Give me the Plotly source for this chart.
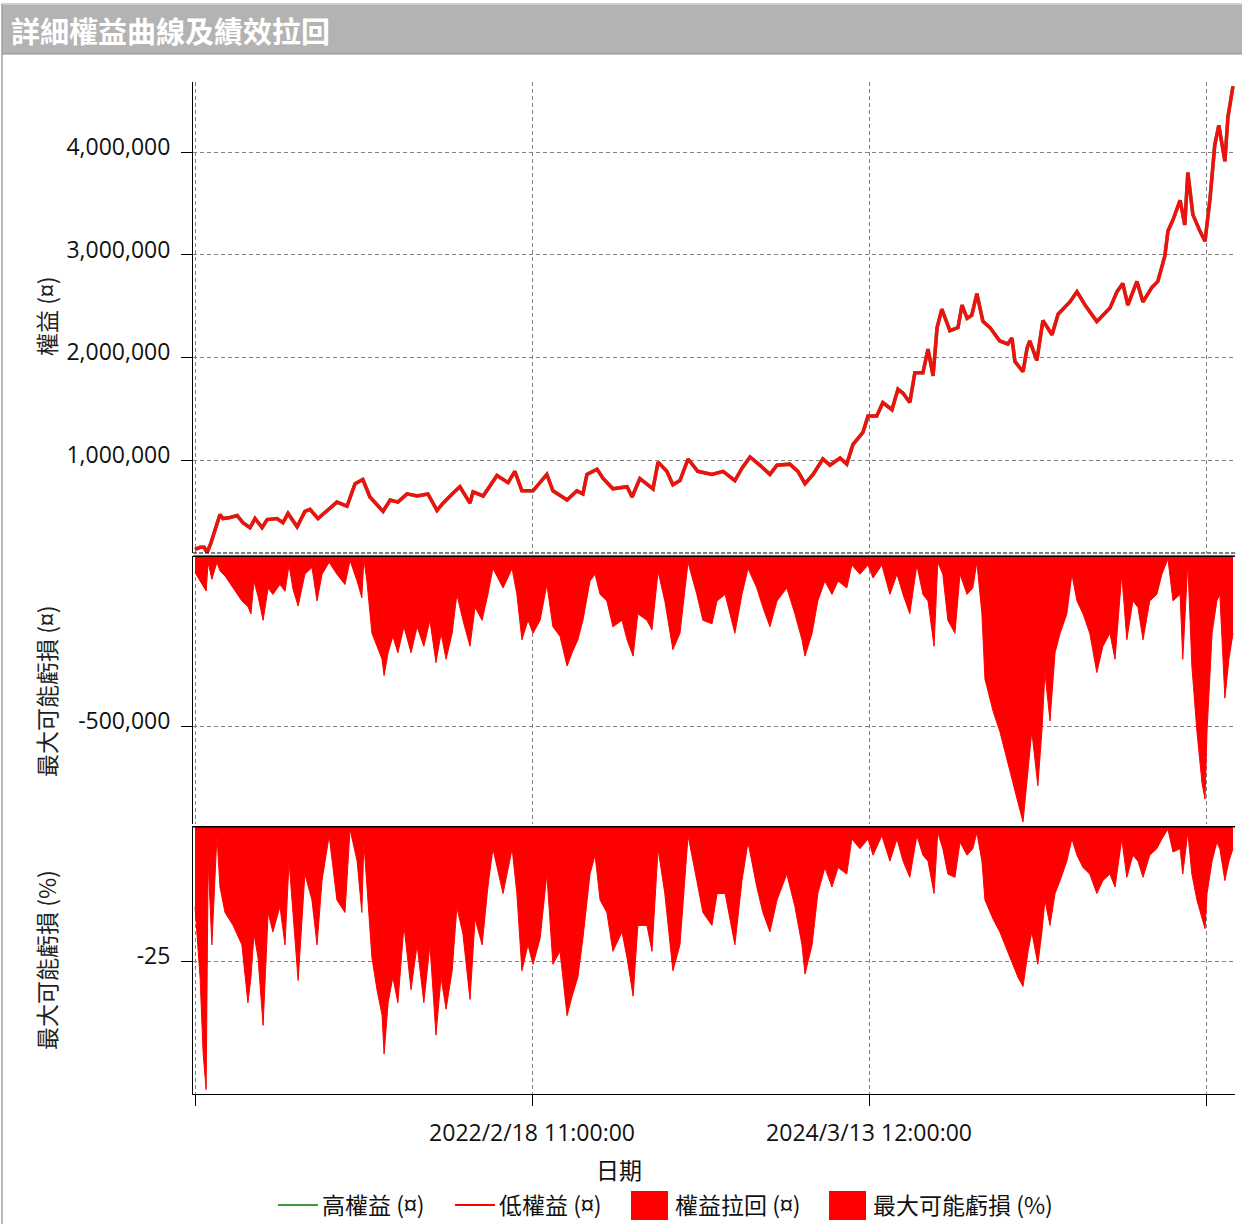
import plotly.graph_objects as go

# ---------------- data ----------------
eq_bar = [0, 15, 27, 36, 47, 59, 74, 83, 104, 125, 142, 163, 178, 199, 214, 243, 261, 276, 303, 326,
          341, 365, 392, 421, 451, 475, 498, 519, 558, 579, 602, 629, 659, 691, 718, 736, 763, 786, 816, 825,
          855, 896, 929, 949, 970, 1003, 1044, 1062, 1104, 1133, 1151, 1163, 1193, 1211, 1240, 1282, 1297, 1320, 1359, 1374,
          1400, 1418, 1439, 1463, 1492, 1534, 1567, 1602, 1623, 1647, 1676, 1706, 1727, 1765, 1789, 1810, 1834, 1863, 1884, 1914,
          1934, 1952, 1982, 1997, 2023, 2041, 2068, 2086, 2101, 2121, 2136, 2160, 2175, 2190, 2202, 2216, 2240, 2264, 2276, 2291,
          2305, 2320, 2338, 2359, 2388, 2412, 2424, 2433, 2457, 2469, 2477, 2498, 2516, 2543, 2561, 2596, 2617, 2641, 2676, 2715,
          2736, 2753, 2768, 2795, 2813, 2839, 2857, 2878, 2887, 2902, 2923, 2937, 2946, 2961, 2982, 2997, 3012, 3026, 3038, 3056,
          3065, 3080]
equity = [130000, 150000, 150000, 100000, 190000, 320000, 470000, 430000, 440000, 460000, 390000, 340000, 430000, 340000, 420000, 430000, 390000, 480000, 350000, 500000,
          520000, 430000, 510000, 590000, 550000, 770000, 810000, 640000, 500000, 610000, 590000, 670000, 650000, 670000, 510000, 580000, 670000, 740000, 580000, 690000,
          650000, 850000, 780000, 890000, 700000, 700000, 860000, 700000, 610000, 700000, 670000, 860000, 910000, 820000, 720000, 740000, 640000, 820000, 720000, 980000,
          890000, 760000, 800000, 1010000, 890000, 860000, 890000, 800000, 920000, 1030000, 950000, 860000, 950000, 960000, 890000, 770000, 860000, 1010000, 950000, 1020000,
          960000, 1150000, 1270000, 1430000, 1430000, 1560000, 1490000, 1690000, 1650000, 1560000, 1850000, 1850000, 2080000, 1820000, 2290000, 2470000, 2260000, 2290000, 2510000, 2380000,
          2410000, 2620000, 2350000, 2290000, 2160000, 2130000, 2190000, 1960000, 1860000, 2090000, 2160000, 1970000, 2360000, 2220000, 2420000, 2540000, 2640000, 2510000, 2350000, 2480000,
          2640000, 2720000, 2510000, 2740000, 2540000, 2680000, 2740000, 2990000, 3230000, 3340000, 3530000, 3290000, 3800000, 3390000, 3230000, 3130000, 3550000, 4070000, 4260000, 3910000,
          4340000, 4640000]

dd_bar = [0, 15, 24, 33, 39, 50, 65, 74, 89, 113, 139, 157, 166, 175, 187, 202, 217, 231, 252, 267,
          279, 291, 306, 326, 347, 362, 377, 398, 421, 445, 460, 481, 495, 501, 510, 525, 540, 555, 561, 573,
          587, 602, 620, 641, 659, 679, 697, 715, 730, 745, 763, 777, 795, 816, 831, 852, 869, 884, 914, 941,
          955, 970, 988, 1003, 1024, 1044, 1062, 1083, 1104, 1119, 1136, 1151, 1172, 1187, 1202, 1222, 1240, 1267, 1282, 1300,
          1314, 1341, 1356, 1374, 1394, 1418, 1439, 1463, 1489, 1507, 1534, 1549, 1573, 1602, 1623, 1641, 1667, 1685, 1706, 1727,
          1756, 1780, 1801, 1810, 1831, 1848, 1869, 1890, 1908, 1934, 1949, 1973, 1997, 2012, 2038, 2062, 2083, 2101, 2121, 2142,
          2160, 2175, 2193, 2204, 2219, 2234, 2255, 2270, 2291, 2308, 2320, 2335, 2344, 2368, 2388, 2403, 2427, 2442, 2457, 2472,
          2483, 2501, 2513, 2522, 2537, 2552, 2567, 2587, 2602, 2617, 2635, 2655, 2676, 2694, 2715, 2730, 2750, 2765, 2783, 2798,
          2813, 2833, 2854, 2869, 2887, 2902, 2923, 2931, 2946, 2958, 2973, 2988, 2997, 3003, 3018, 3032, 3041, 3056, 3068, 3080]
dd_abs = [-50000, -75000, -90000, -104000, -20000, -70000, -20000, -45000, -60000, -95000, -133000, -150000, -171000, -75000, -120000, -190000, -95000, -114000, -85000, -105000,
          -28000, -100000, -148000, -55000, -35000, -133000, -55000, -20000, -55000, -85000, -15000, -75000, -124000, -10000, -75000, -228000, -266000, -304000, -352000, -285000,
          -237000, -285000, -209000, -285000, -209000, -266000, -190000, -314000, -228000, -304000, -228000, -114000, -190000, -266000, -152000, -190000, -114000, -38000, -95000, -38000,
          -114000, -247000, -190000, -228000, -190000, -85000, -209000, -237000, -324000, -285000, -247000, -190000, -75000, -55000, -114000, -133000, -209000, -190000, -247000, -295000,
          -171000, -190000, -218000, -47000, -133000, -276000, -228000, -20000, -114000, -190000, -200000, -133000, -114000, -228000, -114000, -38000, -95000, -152000, -209000, -133000,
          -95000, -171000, -247000, -295000, -228000, -133000, -75000, -114000, -75000, -95000, -28000, -55000, -28000, -66000, -28000, -114000, -55000, -114000, -171000, -28000,
          -114000, -133000, -266000, -20000, -55000, -190000, -228000, -55000, -114000, -95000, -20000, -171000, -362000, -456000, -515000, -570000, -666000, -724000, -781000, -627000,
          -515000, -675000, -515000, -343000, -485000, -285000, -228000, -171000, -55000, -133000, -171000, -228000, -343000, -266000, -228000, -304000, -55000, -247000, -133000, -152000,
          -247000, -133000, -114000, -55000, -10000, -133000, -114000, -304000, -20000, -324000, -515000, -666000, -714000, -515000, -228000, -133000, -114000, -418000, -304000, -228000]
dd_pct = [-15, -28, -42, -48.8, -6.5, -22, -1.8, -11.3, -16, -18.4, -22, -32.7, -28, -20, -24.4, -36.9, -16, -19.6, -14.9, -22,
          -6.5, -17.2, -28.6, -8.9, -13.7, -22, -10, -1.8, -13.7, -16, -0.6, -6.5, -16, -3, -11.3, -24.4, -30.3, -35, -42.2, -32.7,
          -28, -32.7, -18.4, -30.3, -22, -32.7, -22, -38.7, -28, -33.9, -26.8, -15, -20, -32.1, -17.2, -22, -11.3, -4.2, -12.5, -4.2,
          -12.5, -26.8, -22, -25.6, -20.8, -8.9, -25.6, -23.2, -35.1, -31.5, -28, -20.8, -8.9, -5.4, -13.7, -16, -23.2, -19.6, -24.4, -31.5,
          -18.4, -18.4, -23.2, -4.2, -12.5, -26.8, -22, -1.8, -10.1, -16, -18.4, -12.5, -12.5, -22, -10.1, -3, -11.3, -16, -19.6, -13.7,
          -8.9, -14.9, -22, -27.4, -22, -12.5, -7.7, -11.3, -7.7, -8.9, -2.4, -4.2, -2.4, -5.4, -1.8, -6.5, -2.4, -6.5, -9.5, -1.8,
          -5.4, -6.5, -12.5, -1.2, -4.2, -8.9, -9.5, -3, -5.4, -4.2, -1.2, -6.5, -13.7, -17.2, -19.6, -22, -25.6, -28, -29.7, -23.2,
          -19.6, -25.6, -19.6, -13.7, -18.4, -12.5, -10.1, -6.5, -2.4, -5.4, -7.7, -8.9, -12.5, -10.1, -8.9, -11.3, -2.4, -9.5, -5.4, -6.5,
          -9.5, -5.4, -4.2, -2.4, -0.6, -4.8, -4.2, -8.9, -1.2, -8.9, -13.7, -17.2, -19, -12.5, -6.5, -3, -4.2, -10.1, -6.5, -4.2]

x_tickvals = [0, 1000, 2000, 3000]
x_ticktext = ["", "2022/2/18 11:00:00", "2024/3/13 12:00:00", ""]
eq_tickvals = [1000000, 2000000, 3000000, 4000000]
eq_ticktext = ["1,000,000", "2,000,000", "3,000,000", "4,000,000"]
abs_tickvals = [-500000]
abs_ticktext = ["-500,000"]
pct_tickvals = [-25]
pct_ticktext = ["-25"]

title_text = "詳細權益曲線及績效拉回"
legend_names = ["高權益 (¤)", "低權益 (¤)", "權益拉回 (¤)", "最大可能虧損 (%)"]

# ---------------- figure ----------------
RED = "#ff0000"
GREEN = "#3c9a3c"
NUM_FONT = "Open Sans, Noto Sans CJK TC, sans-serif"
CJK_FONT = "Noto Sans CJK TC, Noto Sans, sans-serif"

fig = go.Figure()
fig.add_trace(go.Scatter(x=eq_bar, y=equity, mode="lines", name=legend_names[0],
                         line=dict(color=GREEN, width=3.5), xaxis="x", yaxis="y", showlegend=False))
fig.add_trace(go.Scatter(x=eq_bar, y=equity, mode="lines", name=legend_names[1],
                         line=dict(color="#f01010", width=3.5), xaxis="x", yaxis="y", showlegend=False))
fig.add_trace(go.Scatter(x=dd_bar, y=dd_abs, mode="lines", name=legend_names[2], fill="tozeroy",
                         fillcolor=RED, line=dict(color=RED, width=1), xaxis="x2", yaxis="y2", showlegend=False))
fig.add_trace(go.Scatter(x=dd_bar, y=dd_pct, mode="lines", name=legend_names[3], fill="tozeroy",
                         fillcolor=RED, line=dict(color=RED, width=1), xaxis="x3", yaxis="y3", showlegend=False))

grid = dict(showgrid=True, gridcolor="#808080", gridwidth=1, griddash="4px,3px", zeroline=False)
xcommon = dict(range=[-6, 3086], tickvals=x_tickvals, **grid)
ycommon = dict(ticks="outside", ticklen=11, tickcolor="black", showline=True, linecolor="black",
               linewidth=1, ticklabelstandoff=6, ticklabelshift=-5,
               tickfont=dict(family=NUM_FONT, size=23, color="#111111"), **grid)

PLOT_W, PLOT_H = 1042, 1012
L, T = 193, 82


def px(x):
    return (x - L) / PLOT_W


def py(y):
    return (T + PLOT_H - y) / PLOT_H


fig.update_layout(
    width=1242, height=1224,
    margin=dict(l=193, r=7, t=82, b=130),
    paper_bgcolor="white", plot_bgcolor="white",
    showlegend=False,
    xaxis=dict(domain=[0, 1], anchor="y", showticklabels=False, ticks="", showline=False, **xcommon),
    xaxis2=dict(domain=[0, 1], anchor="y2", matches="x", showticklabels=False, ticks="", showline=False, **xcommon),
    xaxis3=dict(domain=[0, 1], anchor="y3", matches="x", ticktext=x_ticktext, ticks="outside", ticklen=11,
                tickcolor="black", showline=True, linecolor="black", ticklabelstandoff=7,
                tickfont=dict(family=NUM_FONT, size=23, color="#111111"), **xcommon),
    yaxis=dict(domain=[py(553), 1], anchor="x", range=[94500, 4682000], tickvals=eq_tickvals,
               ticktext=eq_ticktext, **ycommon),
    yaxis2=dict(domain=[py(824), py(555.5)], anchor="x2", range=[-787000, 0], tickvals=abs_tickvals,
                ticktext=abs_ticktext, **ycommon),
    yaxis3=dict(domain=[0, py(826)], anchor="x3", range=[-49.6, 0], tickvals=pct_tickvals,
                ticktext=pct_ticktext, **ycommon),
)

shapes = []
# title bar
shapes.append(dict(type="rect", xref="paper", yref="paper", x0=px(2), x1=px(1242), y0=py(54), y1=py(5),
                   fillcolor="#b3b3b3", line=dict(width=0), layer="below"))
shapes.append(dict(type="line", xref="paper", yref="paper", x0=px(2), x1=px(1242), y0=py(54), y1=py(54),
                   line=dict(color="#8c8c8c", width=1)))
shapes.append(dict(type="line", xref="paper", yref="paper", x0=px(2), x1=px(1242), y0=py(4), y1=py(4),
                   line=dict(color="#cfcfcf", width=2)))
shapes.append(dict(type="line", xref="paper", yref="paper", x0=px(2), x1=px(2), y0=py(1224), y1=py(4),
                   line=dict(color="#a0a0a0", width=1.5)))
# dashed bottom border of the equity panel
shapes.append(dict(type="line", xref="paper", yref="paper", x0=0, x1=1, y0=py(553), y1=py(553),
                   line=dict(color="black", width=1, dash="4px,2px")))
# thick zero lines on the drawdown panels
shapes.append(dict(type="line", xref="paper", yref="y2", x0=0, x1=1, y0=0, y1=0,
                   line=dict(color="black", width=3)))
shapes.append(dict(type="line", xref="paper", yref="y3", x0=0, x1=1, y0=0, y1=0,
                   line=dict(color="black", width=3)))

# custom legend
leg_y = py(1204)
shapes.append(dict(type="line", xref="paper", yref="paper", x0=px(278), x1=px(318), y0=py(1205), y1=py(1205),
                   line=dict(color=GREEN, width=2)))
shapes.append(dict(type="line", xref="paper", yref="paper", x0=px(455), x1=px(495), y0=py(1205), y1=py(1205),
                   line=dict(color=RED, width=2)))
shapes.append(dict(type="rect", xref="paper", yref="paper", x0=px(631), x1=px(668), y0=py(1220), y1=py(1191),
                   fillcolor=RED, line=dict(width=0)))
shapes.append(dict(type="rect", xref="paper", yref="paper", x0=px(829), x1=px(866), y0=py(1220), y1=py(1191),
                   fillcolor=RED, line=dict(width=0)))
fig.update_layout(shapes=shapes)

ann = []
ann.append(dict(text="<b>" + title_text + "</b>", xref="paper", yref="paper", x=px(9), y=py(30), xanchor="left",
                yanchor="middle", showarrow=False, font=dict(family=CJK_FONT, size=29, color="white")))
ann.append(dict(text="權益 (¤)", xref="paper", yref="paper", x=px(46), y=py(317), textangle=-90,
                xanchor="center", yanchor="middle", showarrow=False, font=dict(family=CJK_FONT, size=23, color="#222")))
ann.append(dict(text="最大可能虧損 (¤)", xref="paper", yref="paper", x=px(46), y=py(692), textangle=-90,
                xanchor="center", yanchor="middle", showarrow=False, font=dict(family=CJK_FONT, size=23, color="#222")))
ann.append(dict(text="最大可能虧損 (%)", xref="paper", yref="paper", x=px(46), y=py(960), textangle=-90,
                xanchor="center", yanchor="middle", showarrow=False, font=dict(family=CJK_FONT, size=23, color="#222")))
ann.append(dict(text="日期", xref="paper", yref="paper", x=px(619), y=py(1169), xanchor="center", yanchor="middle",
                showarrow=False, font=dict(family=CJK_FONT, size=23, color="#111")))
for name, xs in zip(legend_names, [320, 497, 673, 871]):
    ann.append(dict(text=name, xref="paper", yref="paper", x=px(xs), y=leg_y, xanchor="left", yanchor="middle",
                    showarrow=False, font=dict(family=CJK_FONT, size=23, color="#111")))
fig.update_layout(annotations=ann)

fig.write_html("out.html")
